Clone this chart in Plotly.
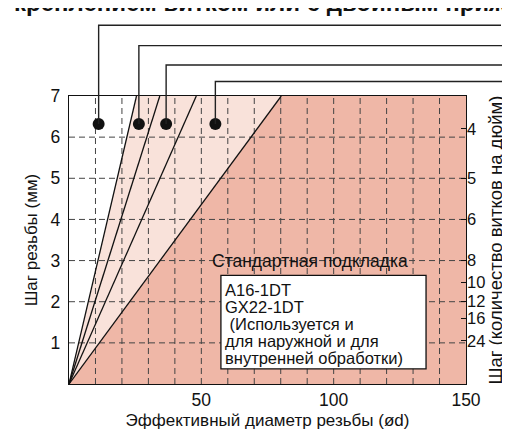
import plotly.graph_objects as go

# ---------------- data ----------------
x_range = [0, 150]
y_range = [0, 7]
boundary_top_x = [25.5, 34.3, 48.1, 80.2]      # effective diameter where each limit line reaches 7 mm pitch
x_tick_vals = [50, 100, 150]
x_grid_vals = [10, 20, 30, 40, 50, 60, 70, 80, 90, 100, 110, 120, 130, 140]
y_tick_vals = [1, 2, 3, 4, 5, 6, 7]
y_grid_vals = [1, 2, 3, 4, 5, 6]
tpi_labels = ["4", "5", "6", "8", "10", "12", "16", "24"]
tpi_pos_mm = [6.2, 5.0, 4.0, 3.0, 2.47, 2.0, 1.6, 1.05]
marker_x = [11.2, 26.4, 36.7, 55.3]
marker_y = 6.32
box_lines = ["A16-1DT", "GX22-1DT", "\u00a0(Используется и", "для наружной и для", "внутренней обработки)"]

# ---------------- style ----------------
LIGHT = "#f9e2da"
DARK = "#efb7a7"
GRID = "#444444"
FONT = "Liberation Sans"
W, H = 510, 430
ML, MR, MT, MB = 61, 52, 88, 45
PW, PH = W - ML - MR, H - MT - MB

def px_to_paper_x(p):
    return (p - ML) / PW

def px_to_paper_y(p):
    return 1 + (MT - p) / PH

def data_to_paper_x(v):
    return (v - x_range[0]) / (x_range[1] - x_range[0])

def data_to_paper_y(v):
    return (v - y_range[0]) / (y_range[1] - y_range[0])

fig = go.Figure()

ytop = y_range[1]
fig.add_trace(go.Scatter(x=[0, boundary_top_x[0], boundary_top_x[3], 0], y=[0, ytop, ytop, 0],
                         fill="toself", fillcolor=LIGHT, mode="lines", line=dict(width=0),
                         hoverinfo="skip", showlegend=False))
fig.add_trace(go.Scatter(x=[0, boundary_top_x[3], x_range[1], x_range[1], 0], y=[0, ytop, ytop, 0, 0],
                         fill="toself", fillcolor=DARK, mode="lines", line=dict(width=0),
                         hoverinfo="skip", showlegend=False))

gx, gy = [], []
for g in x_grid_vals:
    gx += [g, g, None]
    gy += [y_range[0], y_range[1], None]
for g in y_grid_vals:
    gx += [x_range[0], x_range[1], None]
    gy += [g, g, None]
fig.add_trace(go.Scatter(x=gx, y=gy, mode="lines", line=dict(color=GRID, width=1, dash="6px,4px"),
                         hoverinfo="skip", showlegend=False))

lx, ly = [], []
for t in boundary_top_x:
    lx += [0, t, None]
    ly += [0, ytop, None]
fig.add_trace(go.Scatter(x=lx, y=ly, mode="lines", line=dict(color="#111", width=1.3),
                         hoverinfo="skip", showlegend=False))

fig.add_trace(go.Scatter(x=[None], y=[None], yaxis="y2", showlegend=False))

leader_tops_px = [15, 36, 56, 73]
leader_ends_px = [493, 530, 530, 530]
shapes = []
for mx, tp, ep in zip(marker_x, leader_tops_px, leader_ends_px):
    x0 = data_to_paper_x(mx)
    y0 = data_to_paper_y(marker_y)
    y1 = px_to_paper_y(tp)
    x1 = px_to_paper_x(ep)
    shapes.append(dict(type="path", xref="paper", yref="paper",
                       path=f"M {x0} {y0} L {x0} {y1} L {x1} {y1}",
                       line=dict(color="#222", width=1.4), layer="above"))

fig.add_trace(go.Scatter(x=marker_x, y=[marker_y] * len(marker_x), mode="markers",
                         marker=dict(color="#111", size=12), hoverinfo="skip", showlegend=False))

shapes.append(dict(type="rect", xref="x", yref="y", x0=57.4, x1=134.9, y0=0.37, y1=2.64,
                   fillcolor="white", line=dict(color="#111", width=1.3), layer="above"))

annotations = []
annotations.append(dict(text="<b>креплением витком или с двойным прижимом</b>", xref="paper", yref="paper",
                        x=px_to_paper_x(4), y=px_to_paper_y(-8), xanchor="left", yanchor="middle",
                        showarrow=False, font=dict(family=FONT, size=24, color="#111")))
annotations.append(dict(text="О", xref="paper", yref="paper", x=px_to_paper_x(496), y=px_to_paper_y(15),
                        xanchor="left", yanchor="middle", showarrow=False,
                        font=dict(family=FONT, size=17, color="#111")))
annotations.append(dict(text="Стандартная подкладка", xref="x", yref="y", x=91.2, y=3.0,
                        xanchor="center", yanchor="middle", showarrow=False,
                        font=dict(family=FONT, size=17.5, color="#111")))
line_y0 = 2.277
line_step = 0.414
for i, t in enumerate(box_lines):
    annotations.append(dict(text=t, xref="x", yref="y", x=58.3, y=line_y0 - i * line_step,
                            xanchor="left", yanchor="middle", showarrow=False,
                            font=dict(family=FONT, size=16.5, color="#111")))

title_font = dict(family=FONT, size=17, color="#111")
axis_font = dict(family=FONT, size=17.5, color="#111")
fig.update_layout(
    width=W, height=H,
    margin=dict(l=ML, r=MR, t=MT, b=MB),
    paper_bgcolor="white", plot_bgcolor="white",
    shapes=shapes, annotations=annotations,
    xaxis=dict(range=x_range, tickvals=x_tick_vals, showgrid=False, zeroline=False,
               showline=True, mirror=True, linecolor="#111", linewidth=1.3,
               ticks="", tickfont=axis_font,
               title=dict(text="\u00a0" * 9 + "Эффективный диаметр резьбы (ød)", font=title_font, standoff=4)),
    yaxis=dict(range=y_range, tickvals=y_tick_vals, showgrid=False, zeroline=False,
               showline=True, mirror=True, linecolor="#111", linewidth=1.3,
               ticks="outside", ticklen=4, tickcolor="rgba(0,0,0,0)", tickfont=axis_font,
               title=dict(text="Шаг резьбы (мм)" + "\u00a0" * 6, font=title_font, standoff=8)),
    yaxis2=dict(range=y_range, overlaying="y", side="right", tickvals=tpi_pos_mm, ticktext=tpi_labels,
                showgrid=False, zeroline=False, ticks="inside", ticklen=5, tickcolor="#111", tickwidth=1.2,
                tickfont=dict(family=FONT, size=16.5, color="#111"),
                title=dict(text="Шаг (количество витков на дюйм)", font=dict(family=FONT, size=18.5, color="#111"),
                           standoff=4)),
)

fig.write_html("out.html")
